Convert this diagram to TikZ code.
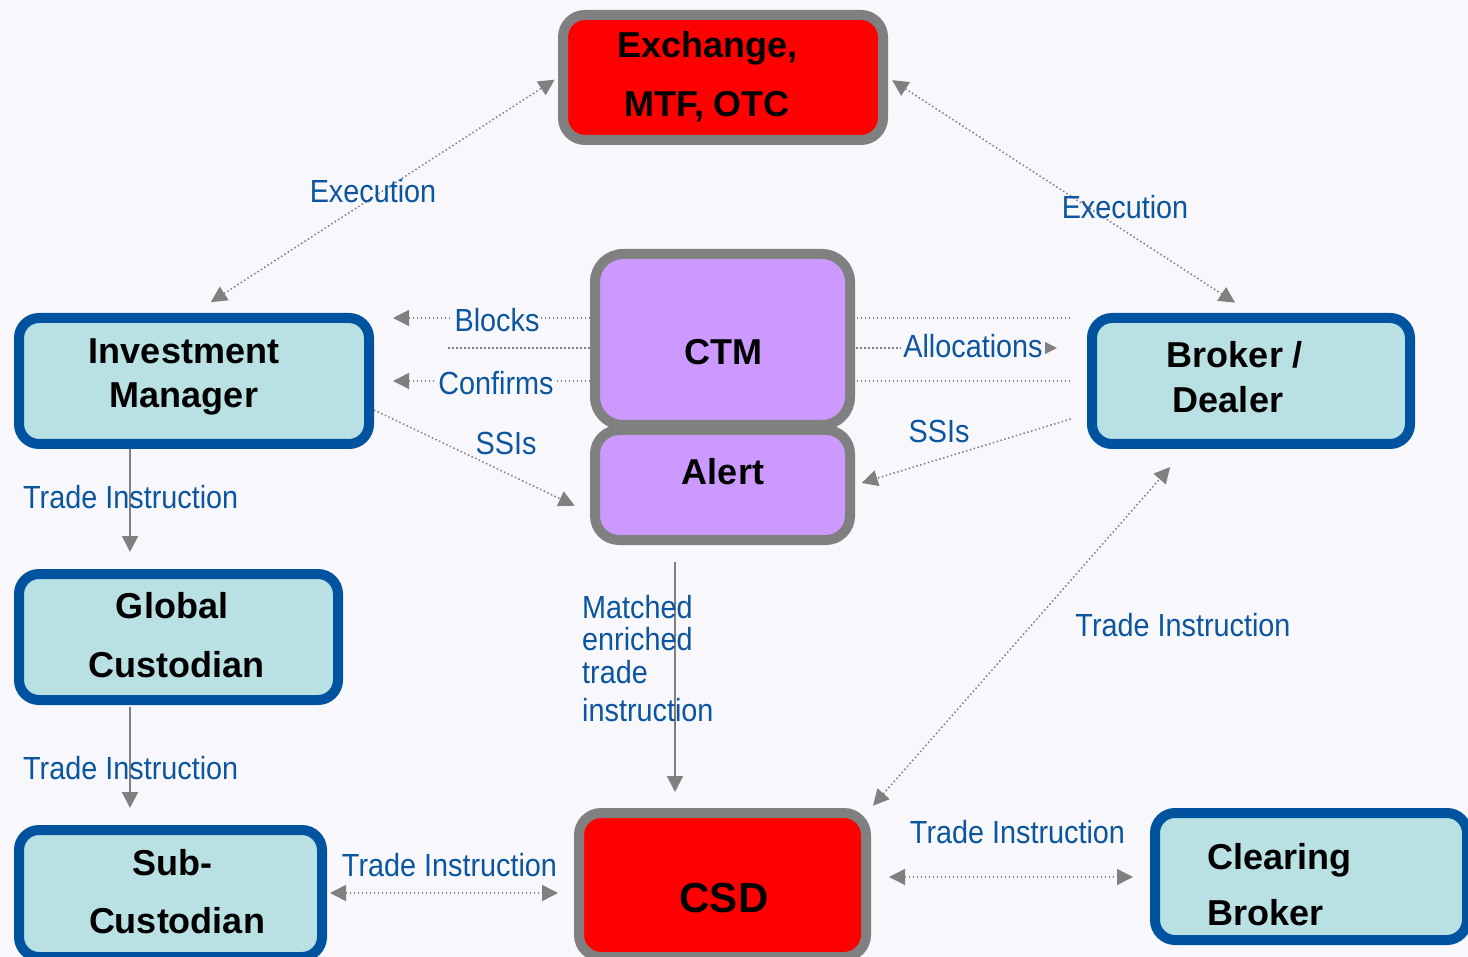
\documentclass[tikz,border=0pt]{standalone}
\usepackage{fontspec}
\setmainfont{Liberation Sans}
\newfontfamily\lblfont{Liberation Sans}[FakeStretch=0.9]
\usetikzlibrary{arrows.meta,calc}
\definecolor{bgc}{RGB}{247,247,252}
\definecolor{tealfill}{RGB}{185,224,227}
\definecolor{bluebd}{RGB}{0,84,159}
\definecolor{lblblue}{RGB}{12,86,160}
\definecolor{grayc}{RGB}{128,128,128}
\definecolor{purp}{RGB}{204,153,255}
\definecolor{redf}{RGB}{255,0,0}
\pgfdeclarelayer{bg}
\pgfsetlayers{bg,main}
\begin{document}
\begin{tikzpicture}[x=1pt,y=-1pt,
  >={Triangle[length=16pt,width=16pt]},
  bluebox/.style={draw=bluebd, fill=tealfill, line width=10pt, rounded corners=20pt, inner sep=0pt},
  graybox/.style={draw=grayc, line width=10pt, rounded corners=22pt, inner sep=0pt},
  bt/.style={font=\fontsize{36}{40}\selectfont\bfseries, inner sep=0pt, anchor=base},
  lbl/.style={font=\lblfont\fontsize{32}{36}\selectfont, text=lblblue, inner sep=0pt, anchor=base},
  lblf/.style={lbl, fill=bgc, inner sep=2pt},
  dotl/.style={draw=grayc, line width=1.5pt, dash pattern=on 1.5pt off 2.5pt},
  solidl/.style={draw=grayc, line width=2pt}
]
\useasboundingbox (0,0) rectangle (1468,957);

% boxes
\node[graybox, fill=redf, minimum width=320pt, minimum height=125pt] (exch) at (723,77.5) {};
\node[bluebox, minimum width=350pt, minimum height=126pt] (im) at (194,381) {};
\node[bluebox, minimum width=318pt, minimum height=126pt] (bd) at (1251,381) {};
\node[graybox, fill=purp, rounded corners=28pt, minimum width=255pt, minimum height=171pt] (ctm) at (722.5,339.5) {};
\node[graybox, fill=purp, rounded corners=24pt, minimum width=255pt, minimum height=110pt] (alert) at (722.5,485) {};
\node[bluebox, minimum width=319pt, minimum height=126pt] (gc) at (178.5,637) {};
\node[bluebox, minimum width=303pt, minimum height=127pt] (sub) at (170.5,893.5) {};
\node[graybox, fill=redf, minimum width=287pt, minimum height=144pt] (csd) at (722.5,885) {};
\node[bluebox, minimum width=312pt, minimum height=127pt] (cb) at (1311,876.5) {};

% box texts
\node[bt] (exchT1) at (707.5,58) {Exchange,};
\node[bt] (exchT2) at (707,117) {MTF, OTC};
\node[bt] (imT1) at (184,364) {Investment};
\node[bt] (imT2) at (184,408) {Manager};
\node[bt] (bdT1) at (1235,368) {Broker /};
\node[bt] (bdT2) at (1228,413) {Dealer};
\node[bt] (ctmT) at (723,365) {CTM};
\node[bt] (alertT) at (723,485) {Alert};
\node[bt] (gcT1) at (172,618) {Global};
\node[bt] (gcT2) at (176.5,677) {Custodian};
\node[bt] (subT1) at (172,875) {Sub-};
\node[bt] (subT2) at (177,933) {Custodian};
\node[bt, font=\fontsize{42}{46}\selectfont\bfseries] (csdT) at (724,912) {CSD};
\node[bt, anchor=base west] (cbT1) at (1207,869) {Clearing};
\node[bt, anchor=base west] (cbT2) at (1207,925) {Broker};

% connectors
\begin{pgfonlayer}{bg}
\fill[bgc] (0,0) rectangle (1468,957);
\draw[dotl,<->,shorten <=20pt,shorten >=4pt] (im.north) -- (exch.west);
\draw[dotl,<->,shorten <=5pt,shorten >=19pt] (exch.east) -- (bd.north);
\draw[dotl,->,shorten <=17pt,shorten >=19pt] ([yshift=63pt]bd.west) -- ([yshift=63pt]im.east);
\draw[dotl,->,shorten <=74pt,shorten >=30pt] ([yshift=33pt]im.east) -- ([yshift=33pt]bd.west);
\draw[dotl,->,shorten <=17pt,shorten >=19pt] (bd.west) -- (im.east);
\draw[dotl,->,shorten >=17pt] ([yshift=-29pt]im.east) -- ([yshift=-28pt]alert.west);
\draw[dotl,->,shorten <=17pt,shorten >=7pt] ([yshift=-33pt]bd.west) -- (alert.east);
\draw[solidl,->,shorten >=17pt] ([xshift=-64pt]im.south) -- ([xshift=-64pt]im.south |- gc.north);
\draw[solidl,->,shorten <=2pt,shorten >=17pt] ([xshift=-48.5pt]gc.south) -- ([xshift=-48.5pt]gc.south |- sub.north);
\draw[solidl,->,shorten <=17pt,shorten >=16pt] ([xshift=-47.5pt]alert.south) -- ([xshift=-47.5pt]alert.south |- csd.north);
\draw[dotl,<->,shorten <=3pt,shorten >=16pt] ([yshift=0.5pt]sub.east) -- ([yshift=0.5pt]sub.east -| csd.west);
\draw[dotl,<->,shorten <=18pt,shorten >=17pt] ([yshift=8pt]csd.east) -- ([yshift=8pt]csd.east -| cb.west);
\draw[dotl,<->,shorten <=3pt,shorten >=24pt] (csd.north east) -- ([xshift=-65pt]bd.south);
\end{pgfonlayer}

% labels
\node[lbl] (lEx1) at (373,203) {Execution};
\node[lbl] (lEx2) at (1125,219) {Execution};
\node[lblf] (lBlk) at (497,332) {Blocks};
\node[lblf] (lAll) at (973,358) {Allocations};
\node[lblf] (lCnf) at (496,395) {Confirms};
\node[lbl] (lSs1) at (506,455) {SSIs};
\node[lbl] (lSs2) at (939,443) {SSIs};
\node[lbl, anchor=base west] (lTi1) at (23,508) {Trade Instruction};
\node[lbl, anchor=base west] (lTi2) at (23,779) {Trade Instruction};
\node[lbl] (lTi3) at (449.5,876) {Trade Instruction};
\node[lbl] (lTi4) at (1017.5,843) {Trade Instruction};
\node[lbl] (lTi5) at (1183,636) {Trade Instruction};
\node[lbl, anchor=base west] (lM1) at (582,618) {Matched};
\node[lbl, anchor=base west] (lM2) at (582,650) {enriched};
\node[lbl, anchor=base west] (lM3) at (582,683) {trade};
\node[lbl, anchor=base west] (lM4) at (582,721) {instruction};
\end{tikzpicture}
\end{document}
